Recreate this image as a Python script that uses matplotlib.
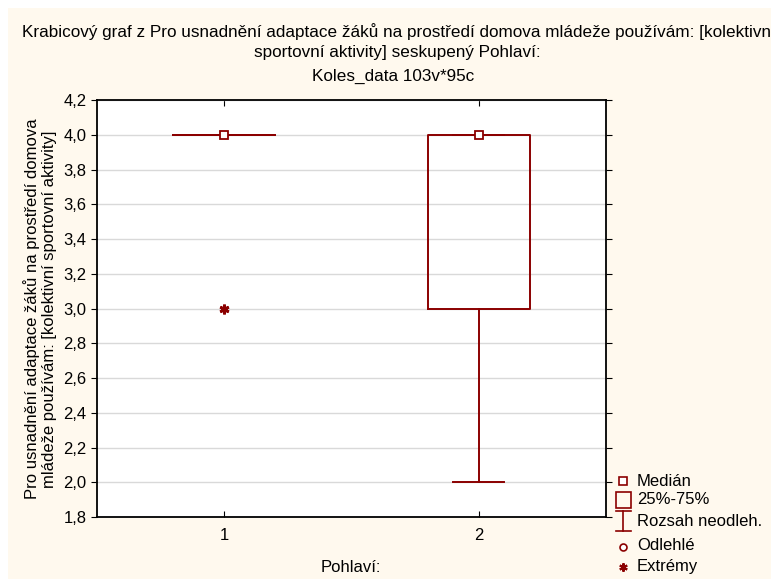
import matplotlib.pyplot as plt
from matplotlib.patches import Rectangle
from matplotlib.lines import Line2D

plt.rcParams['font.family'] = ['Liberation Sans', 'DejaVu Sans']

# hodnoty
skupiny = ['1', '2']
medians = [4.0, 4.0]
q1 = [4.0, 3.0]
q3 = [4.0, 4.0]
whislo = [4.0, 2.0]
whishi = [4.0, 4.0]
extremy = [[3.0], []]

yticks = [1.8, 2.0, 2.2, 2.4, 2.6, 2.8, 3.0, 3.2, 3.4, 3.6, 3.8, 4.0, 4.2]

red = '#8B0000'
cream = '#FFF9EE'
fs = 12

fig = plt.figure(figsize=(7.71, 5.79), dpi=100)
fig.patch.set_facecolor('white')
fig.add_artist(Rectangle((8 / 771, 0), 1, 1 - 8 / 579, transform=fig.transFigure,
                         facecolor=cream, edgecolor='none', zorder=-10))

ax = fig.add_axes([97 / 771, 1 - 517 / 579, 509 / 771, 417 / 579])
ax.set_facecolor('white')

stats = []
for i in range(len(skupiny)):
    stats.append(dict(med=medians[i], q1=q1[i], q3=q3[i], whislo=whislo[i],
                      whishi=whishi[i], fliers=extremy[i], label=skupiny[i]))

pos = list(range(1, len(skupiny) + 1))
ax.bxp(stats, positions=pos, widths=0.4, showfliers=True,
       boxprops=dict(color=red, linewidth=1.4),
       whiskerprops=dict(color=red, linewidth=1.4),
       capprops=dict(color=red, linewidth=1.4),
       capwidths=0.2,
       medianprops=dict(linewidth=0),
       flierprops=dict(marker=(6, 2, 0), markersize=7, markeredgecolor=red,
                       markeredgewidth=2, markerfacecolor=red))
ax.plot(pos, medians, linestyle='none', marker='s', markersize=5.5,
        markerfacecolor='white', markeredgecolor=red, markeredgewidth=1.3, zorder=5)

ax.set_xlim(0.5, 2.5)
ax.set_ylim(1.8, 4.2)
ax.set_yticks(yticks)
ax.set_yticklabels([f'{v:.1f}'.replace('.', ',') for v in yticks], fontsize=fs)
ax.set_xticks(pos)
ax.set_xticklabels(skupiny, fontsize=fs)
ax.yaxis.grid(True, color='#D9D9D9', linewidth=1)
ax.set_axisbelow(True)
ax.tick_params(axis='y', direction='out', length=4, left=True, right=False)
ax.tick_params(axis='x', direction='in', length=4, top=True, bottom=True, pad=8)
ax.tick_params(axis='y', which='both', right=True)
for s in ax.spines.values():
    s.set_linewidth(1.3)

fig.text(351 / 771, 1 - 568 / 579, 'Pohlaví:', fontsize=fs, ha='center', va='center')
fig.text(40 / 771, 1 - 309 / 579,
         'Pro usnadnění adaptace žáků na prostředí domova\n'
         'mládeže používám: [kolektivní sportovní aktivity]',
         fontsize=fs, rotation=90, ha='center', va='center', multialignment='center',
         linespacing=1.1)

fs_t = 12.3
fig.text(22 / 771, 1 - 32 / 579,
         'Krabicový graf z Pro usnadnění adaptace žáků na prostředí domova mládeže používám: [kolektivní',
         fontsize=fs_t, ha='left', va='center')
fig.text(397 / 771, 1 - 53 / 579, 'sportovní aktivity] seskupený Pohlaví:',
         fontsize=fs_t, ha='center', va='center')
fig.text(393 / 771, 1 - 76 / 579, 'Koles_data 103v*95c',
         fontsize=fs_t, ha='center', va='center')

# legenda
lg = fig.add_axes([0, 0, 1, 1], facecolor='none')
lg.set_xlim(0, 771)
lg.set_ylim(579, 0)
lg.axis('off')
lg.plot([623], [481], marker='s', markersize=6, markerfacecolor='white',
        markeredgecolor=red, markeredgewidth=1.2, linestyle='none')
lg.add_patch(Rectangle((616, 492), 15, 16, facecolor='none', edgecolor=red, linewidth=1.2))
lg.add_line(Line2D([623, 623], [511, 531], color=red, linewidth=1.2))
lg.add_line(Line2D([616, 631], [511, 511], color=red, linewidth=1.2))
lg.add_line(Line2D([616, 631], [531, 531], color=red, linewidth=1.2))
lg.plot([623], [547], marker='o', markersize=5, markerfacecolor='white',
        markeredgecolor=red, markeredgewidth=1.2, linestyle='none')
lg.plot([623], [567], marker=(6, 2, 0), markersize=6, markeredgecolor=red,
        markeredgewidth=1.5, linestyle='none')
for txt, y in zip(['Medián', '25%-75%', 'Rozsah neodleh.', 'Odlehlé', 'Extrémy'],
                  [481, 500, 521, 546, 567]):
    lg.text(637, y, txt, fontsize=fs, ha='left', va='center')

fig.savefig('out.png', dpi=100, facecolor=fig.get_facecolor())
